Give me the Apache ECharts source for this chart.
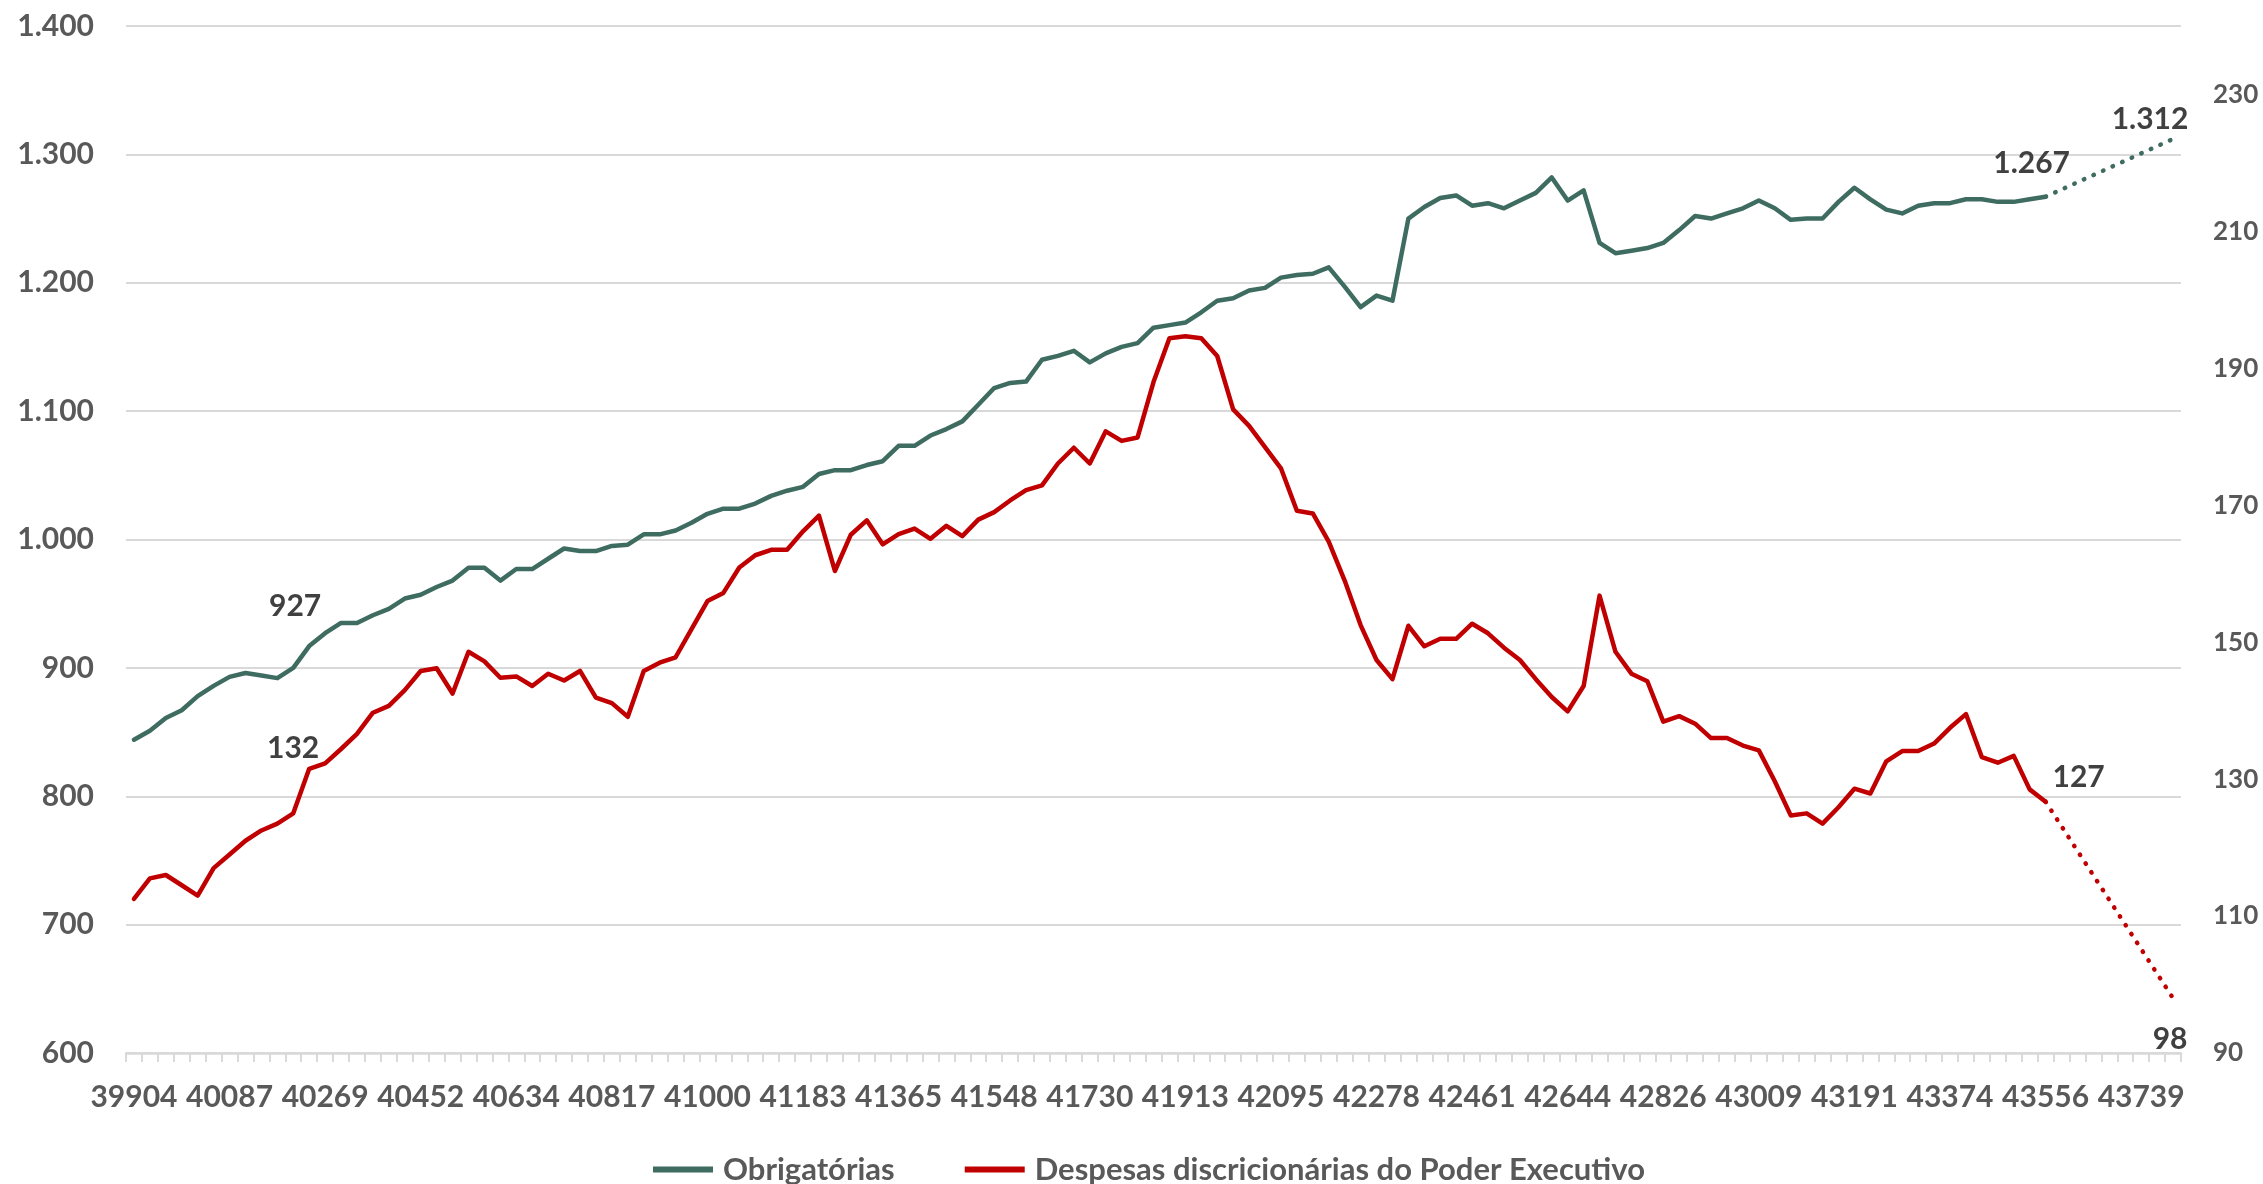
<!DOCTYPE html>
<html><head><meta charset="utf-8">
<script src="https://cdn.jsdelivr.net/npm/echarts@6/dist/echarts.min.js"></script>
<style>html,body{margin:0;padding:0;background:#fff}#c{width:2263px;height:1184px}</style>
</head><body><div id="c"></div>
<script>
// Excel date serials, monthly Apr 2009 .. Dec 2019
const categories = [
 39904,39934,39965,39995,40026,40057,40087,40118,40148,
 40179,40210,40238,40269,40299,40330,40360,40391,40422,40452,40483,40513,
 40544,40575,40603,40634,40664,40695,40725,40756,40787,40817,40848,40878,
 40909,40940,40969,41000,41030,41061,41091,41122,41153,41183,41214,41244,
 41275,41306,41334,41365,41395,41426,41456,41487,41518,41548,41579,41609,
 41640,41671,41699,41730,41760,41791,41821,41852,41883,41913,41944,41974,
 42005,42036,42064,42095,42125,42156,42186,42217,42248,42278,42309,42339,
 42370,42401,42430,42461,42491,42522,42552,42583,42614,42644,42675,42705,
 42736,42767,42795,42826,42856,42887,42917,42948,42979,43009,43040,43070,
 43101,43132,43160,43191,43221,43252,43282,43313,43344,43374,43405,43435,
 43466,43497,43525,43556,43586,43617,43647,43678,43709,43739,43770,43800
];
// Obrigatórias (left axis), Apr 2009 .. Apr 2019
const obrigatorias = [
 844,851,861,867,878,886,893,896,894,892,900,917,927,935,935,941,946,954,957,963,
 968,978,978,968,977,977,985,993,991,991,995,996,1004,1004,1007,1013,1020,1024,1024,1028,
 1034,1038,1041,1051,1054,1054,1058,1061,1073,1073,1081,1086,1092,1105,1118,1122,1123,1140,1143,1147,
 1138,1145,1150,1153,1165,1167,1169,1177,1186,1188,1194,1196,1204,1206,1207,1212,1197,1181,1190,1186,
 1250,1259,1266,1268,1260,1262,1258,1264,1270,1282,1264,1272,1231,1223,1225,1227,1231,1241,1252,1250,
 1254,1258,1264,1258,1249,1250,1250,1263,1274,1265,1257,1254,1260,1262,1262,1265,1265,1263,1263,1265,
 1267
];
// Despesas discricionárias do Poder Executivo (right axis), Apr 2009 .. Apr 2019
const discricionarias = [
 112.5,115.5,116,114.5,113,117,119,121,122.5,123.5,125,131.5,132.3,134.4,136.6,139.7,140.7,143,145.8,146.2,
 142.5,148.6,147.2,144.8,145,143.6,145.4,144.4,145.8,141.9,141.1,139.1,145.8,147,147.8,151.9,156,157.2,160.9,162.7,
 163.5,163.5,166.2,168.5,160.4,165.7,167.8,164.3,165.8,166.6,165.1,167,165.5,167.9,169,170.7,172.2,172.9,176.1,178.4,
 176.1,180.8,179.4,179.9,188,194.4,194.7,194.4,191.8,184,181.6,178.5,175.4,169.2,168.8,164.7,159,152.5,147.4,144.6,
 152.4,149.4,150.5,150.5,152.7,151.3,149.2,147.4,144.6,142,139.9,143.6,156.8,148.6,145.4,144.3,138.4,139.2,138.1,136,
 136,134.9,134.2,129.7,124.7,125,123.5,125.9,128.6,127.9,132.6,134.1,134.1,135.2,137.5,139.5,133.2,132.4,133.4,128.5,
 126.7
];
// Projection (dotted): from last observed month to Dec 2019
const projIndex = [120, 128];
const obrigatoriasProj = [1267, 1312];
const discricionariasProj = [126.7, 98];

const leftTicks = {min: 600, max: 1400, interval: 100};
const rightTicks = {min: 90, max: 240, interval: 20};

const GREEN = '#3e6c60', RED = '#c00000';
const FONT = 'Lato, "Open Sans", sans-serif';
const AX = '#595959', LBL = '#404040', GRID = '#d9d9d9';

function fmtPt(v) {
  v = Math.round(v);
  if (v >= 1000) return Math.floor(v / 1000) + '.' + String(v % 1000).padStart(3, '0');
  return String(v);
}
function padded(idxs, vals) {
  const a = categories.map(() => null);
  idxs.forEach((ix, k) => { a[ix] = vals[k]; });
  return a;
}
function mp(ix, val, off) {
  return {
    coord: [ix, val], symbol: 'circle', symbolSize: 1,
    itemStyle: {color: 'rgba(0,0,0,0)'},
    label: {show: true, position: 'inside', offset: off, formatter: fmtPt(val),
      color: LBL, fontSize: 30, fontWeight: 'bold', fontFamily: FONT}
  };
}
const lblIdx = 12;

const option = {
  animation: false,
  backgroundColor: '#fff',
  grid: {left: 126, right: 82, top: 26, bottom: 131, containLabel: false},
  legend: {
    left: 648, top: 1149, itemWidth: 60, itemHeight: 6, itemGap: 70,
    icon: 'rect',
    data: [
      {name: 'Obrigatórias', itemStyle: {color: GREEN}},
      {name: 'Despesas discricionárias do Poder Executivo', itemStyle: {color: RED}}
    ],
    textStyle: {color: AX, fontSize: 31, fontWeight: 'bold', fontFamily: FONT, padding: [0, 0, 0, 5]}
  },
  xAxis: {
    type: 'category', data: categories.map(String), boundaryGap: true,
    axisLine: {lineStyle: {color: GRID, width: 2.5}},
    axisTick: {show: true, interval: 0, length: 9, lineStyle: {color: GRID, width: 2}},
    axisLabel: {interval: 5, color: AX, fontSize: 30, fontWeight: 'bold', fontFamily: FONT, margin: 29},
    splitLine: {show: false}
  },
  yAxis: [
    {
      type: 'value', min: leftTicks.min, max: leftTicks.max, interval: leftTicks.interval,
      axisLine: {show: false}, axisTick: {show: false},
      axisLabel: {color: AX, fontSize: 30, fontWeight: 'bold', fontFamily: FONT, margin: 32, formatter: fmtPt},
      splitLine: {lineStyle: {color: GRID, width: 2}}
    },
    {
      type: 'value', min: rightTicks.min, max: rightTicks.max, interval: rightTicks.interval / 2,
      position: 'right',
      axisLine: {show: false}, axisTick: {show: false}, splitLine: {show: false},
      axisLabel: {color: AX, fontSize: 26, fontWeight: 'bold', fontFamily: FONT, margin: 32,
        showMaxLabel: false,
        formatter: v => ((v - rightTicks.min) % rightTicks.interval === 0 && v < rightTicks.max) ? String(v) : ''}
    }
  ],
  series: [
    {
      name: 'Obrigatórias', type: 'line', yAxisIndex: 0, data: obrigatorias,
      symbol: 'none', lineStyle: {color: GREEN, width: 4.5, join: 'round', cap: 'round'},
      itemStyle: {color: GREEN}, z: 3,
      markPoint: {silent: true, data: [mp(lblIdx, obrigatorias[lblIdx], [-30, -27])]}
    },
    {
      name: 'Despesas discricionárias do Poder Executivo', type: 'line', yAxisIndex: 1, data: discricionarias,
      symbol: 'none', lineStyle: {color: RED, width: 4.5, join: 'round', cap: 'round'},
      itemStyle: {color: RED}, z: 3,
      markPoint: {silent: true, data: [mp(lblIdx, discricionarias[lblIdx], [-32, -15])]}
    },
    {
      name: 'proj_obrig', type: 'line', yAxisIndex: 0, data: padded(projIndex, obrigatoriasProj),
      connectNulls: true, symbol: 'none',
      lineStyle: {color: GREEN, width: 4.5, type: [0.5, 10], cap: 'round'}, z: 2,
      markPoint: {silent: true, data: [
        mp(projIndex[0], obrigatoriasProj[0], [-14, -33]),
        mp(projIndex[1], obrigatoriasProj[1], [-23, -20])
      ]}
    },
    {
      name: 'proj_disc', type: 'line', yAxisIndex: 1, data: padded(projIndex, discricionariasProj),
      connectNulls: true, symbol: 'none',
      lineStyle: {color: RED, width: 4.5, type: [0.5, 10], cap: 'round'}, z: 2,
      markPoint: {silent: true, data: [
        mp(projIndex[0], discricionariasProj[0], [33, -24]),
        mp(projIndex[1], discricionariasProj[1], [-3, 41])
      ]}
    }
  ]
};
const chart = echarts.init(document.getElementById('c'), null, {renderer: 'canvas'});
chart.setOption(option);
</script></body></html>
